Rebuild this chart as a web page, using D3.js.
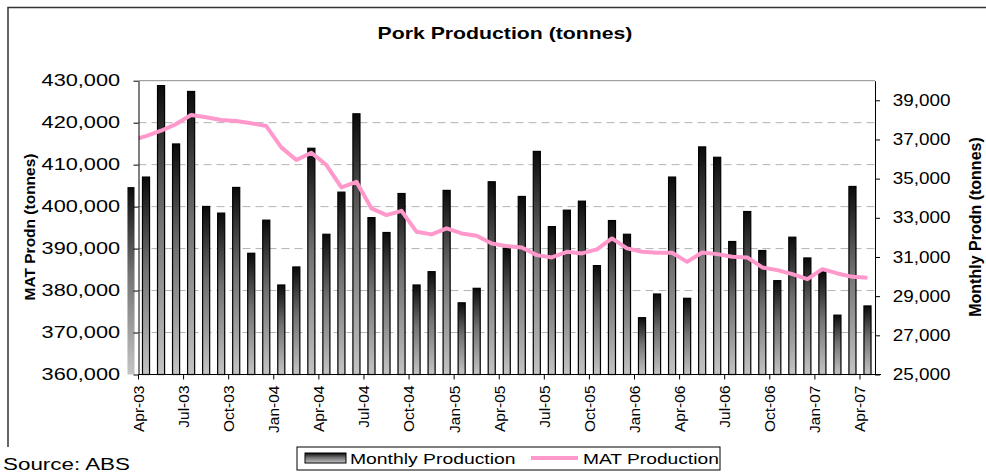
<!DOCTYPE html>
<html>
<head>
<meta charset="utf-8">
<script src="https://cdn.jsdelivr.net/npm/d3@7"></script>
<style>
  body { margin: 0; background: #fff; }
  svg { display: block; font-family: 'Liberation Sans', Arial, sans-serif; }
</style>
</head>
<body>
<script>
const months = [
  'Mar-03', 'Apr-03', 'May-03', 'Jun-03', 'Jul-03', 'Aug-03', 'Sep-03', 'Oct-03', 'Nov-03', 'Dec-03',
  'Jan-04', 'Feb-04', 'Mar-04', 'Apr-04', 'May-04', 'Jun-04', 'Jul-04', 'Aug-04', 'Sep-04', 'Oct-04', 'Nov-04', 'Dec-04',
  'Jan-05', 'Feb-05', 'Mar-05', 'Apr-05', 'May-05', 'Jun-05', 'Jul-05', 'Aug-05', 'Sep-05', 'Oct-05', 'Nov-05', 'Dec-05',
  'Jan-06', 'Feb-06', 'Mar-06', 'Apr-06', 'May-06', 'Jun-06', 'Jul-06', 'Aug-06', 'Sep-06', 'Oct-06', 'Nov-06', 'Dec-06',
  'Jan-07', 'Feb-07', 'Mar-07', 'Apr-07'
]

const monthlyProduction = [
  34570, 35080, 39750, 36770, 39450, 33580, 33240, 34550, 31190, 32880,
  29570, 30490, 36550, 32160, 34310, 38310, 33010, 32250, 34240, 29570, 30250, 34400,
  28660, 29400, 34840, 31450, 34090, 36390, 32550, 33390, 33850, 30560, 32860, 32160,
  27900, 29110, 35080, 28890, 36620, 36090, 31790, 33320, 31330, 29790, 32010, 30950,
  30250, 28030, 34600, 28500
]

const matProduction = [
  415740, 416810, 418080, 419670, 421820, 421270, 420630, 420390, 419840, 419200,
  414120, 411090, 412830, 409900, 404580, 405920, 399570, 397980, 399000, 394000, 393380, 394810,
  393610, 393040, 391230, 390590, 390280, 388440, 387890, 389230, 388850, 389800, 392420, 390040,
  389230, 388990, 388990, 386840, 389080, 388680, 388040, 387890, 385510, 384870, 383910, 382720,
  385100, 384080, 383270, 383030
]

const matTicks = [360000, 370000, 380000, 390000, 400000, 410000, 420000, 430000]
const monthlyTicks = [25000, 27000, 29000, 31000, 33000, 35000, 37000, 39000]
const labelMonths = [
  'Apr-03', 'Jul-03', 'Oct-03', 'Jan-04', 'Apr-04', 'Jul-04', 'Oct-04', 'Jan-05', 'Apr-05',
  'Jul-05', 'Oct-05', 'Jan-06', 'Apr-06', 'Jul-06', 'Oct-06', 'Jan-07', 'Apr-07'
]

const SIZE = { WIDTH: 986, HEIGHT: 472 }
const PLOT = { LEFT: 138.5, RIGHT: 875, TOP: 80.7, BOTTOM: 374.5 }
const PINK = '#ff99cc'

const svg = d3.select('body').append('svg')
  .attr('width', SIZE.WIDTH)
  .attr('height', SIZE.HEIGHT)

// wide text, the picture looks stretched sideways
const addText = (parent, { x, y, text, size = 16, weight = 'normal', anchor = 'start', stretch = 1.18 }) => {
  return parent.append('text')
    .attr('transform', `translate(${x},${y}) scale(${stretch},1)`)
    .attr('text-anchor', anchor)
    .attr('font-size', size)
    .attr('font-weight', weight)
    .attr('fill', '#000')
    .text(text)
}

const defs = svg.append('defs')
const grad = defs.append('linearGradient')
  .attr('id', 'barGrad')
  .attr('x1', 0).attr('y1', 0).attr('x2', 0).attr('y2', 1)
grad.append('stop').attr('offset', '0%').attr('stop-color', '#0a0a0a')
grad.append('stop').attr('offset', '45%').attr('stop-color', '#707070')
grad.append('stop').attr('offset', '100%').attr('stop-color', '#c4c4c4')

defs.append('clipPath').attr('id', 'plotClip')
  .append('rect')
  .attr('x', PLOT.LEFT).attr('y', PLOT.TOP)
  .attr('width', PLOT.RIGHT - PLOT.LEFT)
  .attr('height', PLOT.BOTTOM - PLOT.TOP)

// chart frame
svg.append('path')
  .attr('d', `M8,${SIZE.HEIGHT + 5}V7.5H${SIZE.WIDTH + 5}`)
  .attr('fill', 'none')
  .attr('stroke', '#333')
  .attr('stroke-width', 1.5)

const step = (PLOT.RIGHT - PLOT.LEFT) / (months.length - 1)
const x = d3.scaleBand()
  .domain(months)
  .range([PLOT.LEFT - step, PLOT.RIGHT])
const barWidth = x.bandwidth() * 0.47
const xCenter = d => x(d) + x.bandwidth() / 2

const yMat = d3.scaleLinear()
  .domain([360000, 430000])
  .range([PLOT.BOTTOM, PLOT.TOP])
const yMonthly = d3.scaleLinear()
  .domain([25000, 40000])
  .range([PLOT.BOTTOM, PLOT.TOP])

// gridlines
svg.append('g')
  .selectAll('line')
  .data(matTicks.slice(1, -1))
  .enter()
  .append('line')
  .attr('x1', PLOT.LEFT).attr('x2', PLOT.RIGHT)
  .attr('y1', d => yMat(d)).attr('y2', d => yMat(d))
  .attr('stroke', '#b4b4b4')
  .attr('stroke-dasharray', '8,5')

svg.append('line')
  .attr('x1', PLOT.LEFT).attr('x2', PLOT.RIGHT)
  .attr('y1', PLOT.TOP).attr('y2', PLOT.TOP)
  .attr('stroke', '#8c8c8c')

// bars
svg.append('g')
  .selectAll('rect')
  .data(months)
  .enter()
  .append('rect')
  .attr('x', d => xCenter(d) - barWidth / 2)
  .attr('y', (d, i) => yMonthly(monthlyProduction[i]))
  .attr('width', barWidth)
  .attr('height', (d, i) => PLOT.BOTTOM - yMonthly(monthlyProduction[i]))
  .attr('fill', 'url(#barGrad)')
  .attr('stroke', (d, i) => i === 0 ? 'none' : '#000')
  .attr('stroke-width', 1.2)

// MAT line
const line = d3.line()
  .x(d => xCenter(d.month))
  .y(d => yMat(d.value))

svg.append('path')
  .datum(months.map((m, i) => ({ month: m, value: matProduction[i] })))
  .attr('clip-path', 'url(#plotClip)')
  .attr('d', line)
  .attr('fill', 'none')
  .attr('stroke', PINK)
  .attr('stroke-width', 4)
  .attr('stroke-linejoin', 'round')

// axes
const leftAxis = svg.append('g')
  .attr('transform', `translate(${PLOT.LEFT},0)`)
  .call(d3.axisLeft(yMat).tickValues(matTicks).tickFormat(d3.format(',')).tickSize(5).tickSizeOuter(0))
leftAxis.selectAll('text')
  .attr('x', -13.5)
  .attr('transform', 'scale(1.36,1)')

const rightAxis = svg.append('g')
  .attr('transform', `translate(${PLOT.RIGHT},0)`)
  .call(d3.axisRight(yMonthly).tickValues(monthlyTicks).tickFormat(d3.format(',')).tickSize(5).tickSizeOuter(0))
rightAxis.selectAll('text')
  .attr('x', 15)
  .attr('transform', 'scale(1.18,1)')

;[leftAxis, rightAxis].forEach(axis => {
  axis.attr('font-size', 16).attr('font-family', null)
  axis.selectAll('line').attr('stroke', '#000')
  axis.select('.domain').attr('stroke', '#000')
})

const bottomAxis = svg.append('g')
  .attr('transform', `translate(0,${PLOT.BOTTOM})`)
  .call(d3.axisBottom(x).tickValues(labelMonths).tickSize(5))
bottomAxis.select('.domain').remove()
bottomAxis.append('line')
  .attr('x1', PLOT.LEFT).attr('x2', PLOT.RIGHT + 6)
  .attr('stroke', '#000')
bottomAxis.selectAll('.tick')
  .attr('transform', d => `translate(${x(d)},0)`)
bottomAxis.selectAll('.tick text')
  .attr('font-size', 15.5)
  .attr('font-family', null)
  .attr('text-anchor', 'end')
  .attr('transform', 'rotate(-90)')
  .attr('x', -11)
  .attr('y', 0)
  .attr('dy', '0.35em')
  .attr('fill', '#000')

// titles
addText(svg, { x: 505, y: 39, text: 'Pork Production (tonnes)', size: 17, weight: 'bold', anchor: 'middle', stretch: 1.25 })

svg.append('text')
  .attr('transform', 'translate(35,227) rotate(-90)')
  .attr('text-anchor', 'middle')
  .attr('font-size', 15.5)
  .attr('font-weight', 'bold')
  .text('MAT Prodn (tonnes)')

svg.append('text')
  .attr('transform', 'translate(981,227) rotate(-90)')
  .attr('text-anchor', 'middle')
  .attr('font-size', 16)
  .attr('font-weight', 'bold')
  .text('Monthly Prodn (tonnes)')

// legend
const legend = svg.append('g')
legend.append('rect')
  .attr('x', 297).attr('y', 447)
  .attr('width', 423).attr('height', 23)
  .attr('fill', '#fff')
  .attr('stroke', '#000')
legend.append('rect')
  .attr('x', 305).attr('y', 453)
  .attr('width', 41).attr('height', 10)
  .attr('fill', 'url(#barGrad)')
  .attr('stroke', '#000')
addText(legend, { x: 350, y: 464, text: 'Monthly Production', size: 15, stretch: 1.29 })
legend.append('line')
  .attr('x1', 531).attr('x2', 578)
  .attr('y1', 458).attr('y2', 458)
  .attr('stroke', PINK)
  .attr('stroke-width', 4)
addText(legend, { x: 583, y: 464, text: 'MAT Production', size: 15, stretch: 1.28 })

// source note sits over the frame
svg.append('rect')
  .attr('x', 0).attr('y', 447)
  .attr('width', 140).attr('height', 25)
  .attr('fill', '#fff')
addText(svg, { x: 3, y: 470, text: 'Source: ABS', size: 16, stretch: 1.4 })
</script>
</body>
</html>
